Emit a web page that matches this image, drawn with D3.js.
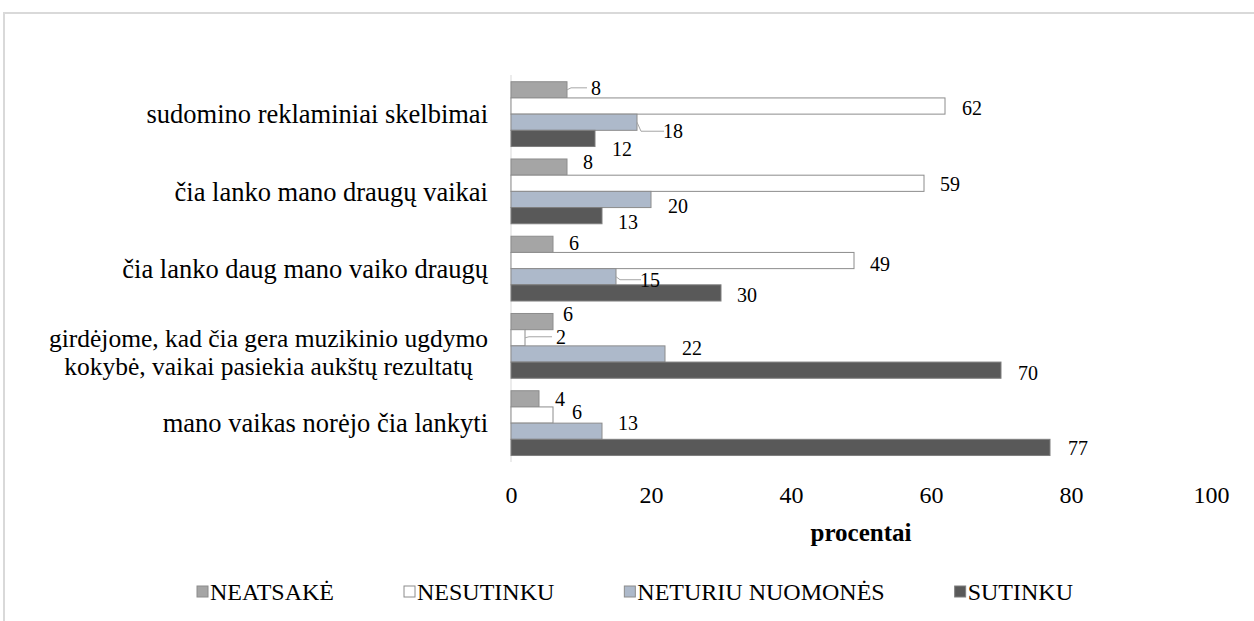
<!DOCTYPE html>
<html>
<head>
<meta charset="utf-8">
<script src="https://cdn.jsdelivr.net/npm/d3@7"></script>
<style>
  body { margin: 0; background: #fff; }
  svg, svg text { font-family: "Liberation Serif", "Times New Roman", serif !important; }
</style>
</head>
<body>
<div id="chart"></div>
<script>
// categories top to bottom
const categories = [
  "sudomino reklaminiai skelbimai",
  "čia lanko mano draugų vaikai",
  "čia lanko daug mano vaiko draugų",
  "girdėjome, kad čia gera muzikinio ugdymo|kokybė, vaikai pasiekia aukštų rezultatų",
  "mano vaikas norėjo čia lankyti"
];
const seriesNames = ["NEATSAKĖ", "NESUTINKU", "NETURIU NUOMONĖS", "SUTINKU"];

// values per series, same order as categories
const neatsake = [8, 8, 6, 6, 4];
const nesutinku = [62, 59, 49, 2, 6];
const neturiu = [18, 20, 15, 22, 13];
const sutinku = [12, 13, 30, 70, 77];

const tickValues = [0, 20, 40, 60, 80, 100];

// label nudges (dx from bar end, dy from bar centre), as placed in the original
const nudges = [
  [[29, -2], [21, -5], [21, -1], [15, -8], [21, 0]],
  [[27, 2], [26, 1], [26, 3], [36, -1], [24, -3]],
  [[36, 9], [27, 7], [34, 3], [27, -6], [26, -8]],
  [[27, 11], [26, 6], [26, 2], [27, 3], [28, 1]]
];
// which labels have leader lines [series, category]
const leaders = [[0, 0], [2, 0], [2, 2], [1, 3]];

const fills = ["#a5a5a5", "#ffffff", "#adb9ca", "#595959"];
const strokes = ["#8c8c8c", "#8c8c8c", "#8c8c8c", "#7f7f7f"];

const FONT = "'Liberation Serif', 'Times New Roman', serif";
const w = 1254, h = 621;

const svg = d3.select("#chart").append("svg")
  .attr("width", w)
  .attr("height", h)
  .attr("font-family", FONT);

// outer frame (top and left edges visible)
svg.append("path")
  .attr("d", `M4,${h} L4,13 L${w},13`)
  .attr("fill", "none")
  .attr("stroke", "#d9d9d9")
  .attr("stroke-width", 2);

const xScale = d3.scaleLinear()
  .domain([0, 100])
  .range([511, 1211]);

const yScale = d3.scaleBand()
  .domain(d3.range(categories.length))
  .range([75.5, 461.75]);

const ySub = d3.scaleBand()
  .domain(d3.range(seriesNames.length))
  .range([0, yScale.bandwidth()])
  .paddingOuter(0.385);

const allValues = [neatsake, nesutinku, neturiu, sutinku];

const rows = [];
allValues.forEach((vals, s) => {
  vals.forEach((v, c) => rows.push({ s, c, v }));
});

// x axis labels only
const xAxis = d3.axisBottom(xScale)
  .tickValues(tickValues)
  .tickSize(0)
  .tickPadding(0);

const gx = svg.append("g")
  .attr("transform", "translate(0,486)")
  .call(xAxis)
  .attr("font-family", FONT);
gx.select(".domain").remove();
gx.selectAll("text")
  .attr("font-size", 24)
  .attr("fill", "#000")
  .style("font-family", FONT);

// vertical axis line
svg.append("line")
  .attr("x1", xScale(0)).attr("x2", xScale(0))
  .attr("y1", 75).attr("y2", 462)
  .attr("stroke", "#d9d9d9")
  .attr("stroke-width", 1);

// bars
svg.selectAll("rect.bar")
  .data(rows)
  .enter()
  .append("rect")
    .attr("class", "bar")
    .attr("x", xScale(0))
    .attr("y", d => yScale(d.c) + ySub(d.s))
    .attr("width", d => xScale(d.v) - xScale(0))
    .attr("height", ySub.bandwidth())
    .attr("fill", d => fills[d.s])
    .attr("stroke", d => strokes[d.s])
    .attr("stroke-width", 1);

// value labels
svg.selectAll("text.val")
  .data(rows)
  .enter()
  .append("text")
    .attr("class", "val")
    .attr("x", d => xScale(d.v) + nudges[d.s][d.c][0])
    .attr("y", d => yScale(d.c) + ySub(d.s) + ySub.bandwidth() / 2 + nudges[d.s][d.c][1])
    .attr("dy", "0.35em")
    .attr("text-anchor", "middle")
    .attr("font-size", 20)
    .style("font-family", FONT)
    .text(d => d.v);

// leader lines
leaders.forEach(([s, c]) => {
  const v = allValues[s][c];
  const x0 = xScale(v);
  const yc = yScale(c) + ySub(s) + ySub.bandwidth() / 2;
  const ly = yc + nudges[s][c][1];
  const lx = x0 + nudges[s][c][0] - 9;
  svg.append("path")
    .attr("d", `M${x0},${yc} L${x0 + 4},${ly} L${lx},${ly}`)
    .attr("fill", "none")
    .attr("stroke", "#a6a6a6")
    .attr("stroke-width", 1);
});

// category labels; wrapped ones are centred on each other, right-aligned as a block
categories.forEach((cat, i) => {
  const lines = cat.split("|");
  const multi = lines.length > 1;
  const cy = yScale(i) + yScale.bandwidth() / 2 + (multi ? 6 : 0);
  const lh = 28.5;
  const g = svg.append("g");
  const t = lines.map((ln, k) => g.append("text")
    .attr("y", cy + (k - (lines.length - 1) / 2) * lh)
    .attr("dy", "0.35em")
    .attr("font-size", multi ? 25.5 : 26.5)
    .attr("text-anchor", "middle")
    .style("font-family", FONT)
    .text(ln));
  const maxW = d3.max(t, n => n.node().getComputedTextLength());
  t.forEach(n => n.attr("x", 488 - maxW / 2));
});

// axis title
svg.append("text")
  .attr("x", (xScale(0) + xScale(100)) / 2)
  .attr("y", 532)
  .attr("dy", "0.35em")
  .attr("text-anchor", "middle")
  .attr("font-size", 25)
  .attr("font-weight", "bold")
  .style("font-family", FONT)
  .text("procentai");

// legend
const legend = svg.append("g");
const gap = 70;
let lx = 0;
seriesNames.forEach((name, i) => {
  const item = legend.append("g").attr("transform", `translate(${lx},0)`);
  item.append("rect")
    .attr("x", 0).attr("y", -6)
    .attr("width", 11).attr("height", 11)
    .attr("fill", fills[i])
    .attr("stroke", strokes[i]);
  const t = item.append("text")
    .attr("x", 13)
    .attr("dy", "0.35em")
    .attr("font-size", 24)
    .style("font-family", FONT)
    .text(name);
  lx += 13 + t.node().getComputedTextLength() + gap;
});
const legW = lx - gap;
legend.attr("transform", `translate(${635 - legW / 2},592)`);
</script>
</body>
</html>
